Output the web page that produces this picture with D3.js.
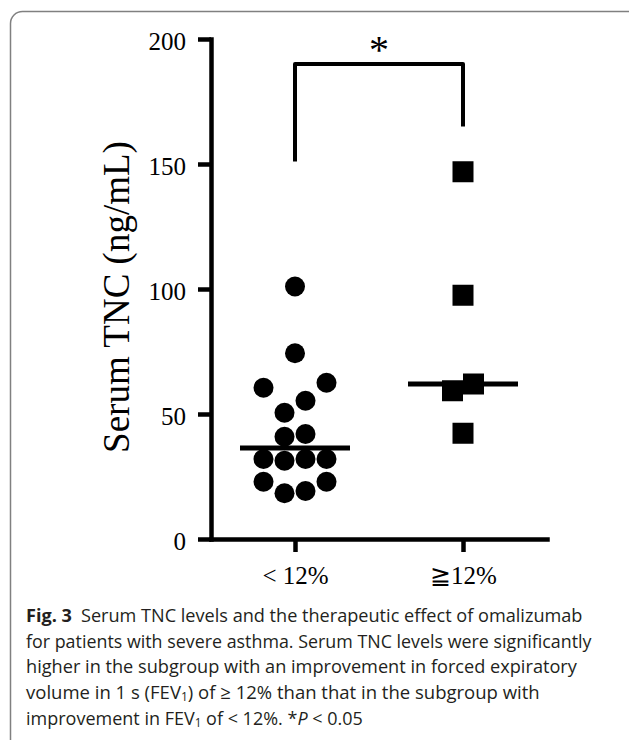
<!DOCTYPE html>
<html>

<head>
    <style>
        body { margin: 0; background: #fff; }
        svg { display: block; }
    </style>
</head>

<body>
    <script src="https://d3js.org/d3.v7.min.js"></script>
    <script>
        const width = 629
        const height = 740

        // groups on the x axis
        const groups = ["< 12%", "\u226712%"]
        // serum TNC (ng/mL), one array per group
        const lowValues = [101, 74.3, 62.5, 60.5, 55.3, 50.5, 42, 40.9, 32, 32, 32, 31.3, 22.9, 22.9, 19.2, 18.3]
        const highValues = [146.9, 97.5, 62, 59.3, 42.3]
        const yTicks = [0, 50, 100, 150, 200]
        // significance bracket, in data units
        const bracketLeft = 151
        const bracketRight = 165
        const bracketTop = 190
        const sigLabel = "*"

        const captionLines = [
            [{ t: "Fig. 3", b: true }, { t: "\u2002Serum TNC levels and the therapeutic effect of omalizumab" }],
            [{ t: "for patients with severe asthma. Serum TNC levels were significantly" }],
            [{ t: "higher in the subgroup with an improvement in forced expiratory" }],
            [{ t: "volume in 1 s (FEV" }, { t: "1", sub: true }, { t: ") of \u2265 12% than that in the subgroup with" }],
            [{ t: "improvement in FEV" }, { t: "1", sub: true }, { t: " of < 12%. *" }, { t: "P", i: true }, { t: " < 0.05" }]
        ]
        const captionEnds = [583, 592, 577, 540, 363]

        const svg = d3.select("body").append("svg")
            .attr("width", width)
            .attr("height", height)

        // frame of the figure panel
        svg.append("rect")
            .attr("x", 10.5).attr("y", 11.5)
            .attr("width", 640).attr("height", 740)
            .attr("rx", 12)
            .attr("fill", "none")
            .attr("stroke", "#808080")
            .attr("stroke-width", 1.5)

        const x = d3.scalePoint()
            .domain(groups)
            .range([211, 547])
            .padding(0.5)

        const y = d3.scaleLinear()
            .domain([0, 200])
            .range([539, 39])

        const serif = "'Liberation Serif', 'Times New Roman', serif"

        const xAxis = svg.append("g")
            .attr("transform", "translate(0,539)")
            .call(d3.axisBottom(x).tickSize(13).tickSizeOuter(0).tickPadding(14))
        const yAxis = svg.append("g")
            .attr("transform", "translate(211,0)")
            .call(d3.axisLeft(y).tickValues(yTicks).tickSize(13).tickSizeOuter(0).tickPadding(12))

        for (const g of [xAxis, yAxis]) {
            g.select(".domain").attr("stroke-width", 4.5).attr("stroke-linecap", "square")
            g.selectAll(".tick line").attr("stroke-width", 4.5)
            g.selectAll(".tick text")
                .attr("fill", "#000")
                .style("font-family", serif)
                .style("font-size", "25px")
        }
        yAxis.selectAll(".tick text").attr("dy", "0.4em")

        // y axis title
        svg.append("text")
            .attr("transform", "translate(129,297) rotate(-90)")
            .attr("text-anchor", "middle")
            .style("font-family", serif)
            .style("font-size", "37px")
            .text("Serum TNC (ng/mL)")

        // simple row based beeswarm: values close in y share a row and are
        // spread around the group centre, the row widens if it hits lower rows
        const r = 10
        const slot = 21
        const swarm = (values) => {
            const pts = values.map(v => ({ v, py: y(v) })).sort((a, b) => a.v - b.v)
            const rows = []
            pts.forEach(p => {
                const last = rows[rows.length - 1]
                if (last && last[0].py - p.py < 2 * r) last.push(p)
                else rows.push([p])
            })
            const placed = []
            const offset = (i, n, k) => {
                if (n % 2 === 0) {
                    const m = Math.floor(i / 2)
                    return (i % 2 === 0 ? -1 : 1) * (m + 0.5 + k)
                }
                if (i === 0) return 0
                const m = Math.ceil(i / 2)
                return (i % 2 === 1 ? -1 : 1) * (m + k)
            }
            rows.forEach(row => {
                let k = 0
                while (k < 6) {
                    const dx = row.map((p, i) => offset(i, row.length, k) * slot)
                    const hit = row.some((p, i) => placed.some(q =>
                        Math.hypot(dx[i] - q.dx, p.py - q.py) < 2 * r - 0.01))
                    if (!hit) {
                        row.forEach((p, i) => { p.dx = dx[i] })
                        break
                    }
                    k++
                }
                row.forEach(p => placed.push(p))
            })
            return placed
        }

        const lowPts = swarm(lowValues)
        const highPts = swarm(highValues)

        svg.append("g").selectAll("circle")
            .data(lowPts)
            .enter()
            .append("circle")
            .attr("cx", d => x(groups[0]) + d.dx)
            .attr("cy", d => d.py)
            .attr("r", r)
            .attr("fill", "#000")

        const side = 21
        svg.append("g").selectAll("rect")
            .data(highPts)
            .enter()
            .append("rect")
            .attr("x", d => x(groups[1]) + d.dx - side / 2)
            .attr("y", d => d.py - side / 2)
            .attr("width", side)
            .attr("height", side)
            .attr("fill", "#000")

        // median lines
        const medians = [d3.median(lowValues), d3.median(highValues)]
        svg.append("g").selectAll("line")
            .data(medians)
            .enter()
            .append("line")
            .attr("x1", (d, i) => x(groups[i]) - 55)
            .attr("x2", (d, i) => x(groups[i]) + 55)
            .attr("y1", d => y(d))
            .attr("y2", d => y(d))
            .attr("stroke", "#000")
            .attr("stroke-width", 5)

        // significance bracket
        const bx1 = x(groups[0])
        const bx2 = x(groups[1])
        svg.append("path")
            .attr("d", `M${bx1},${y(bracketLeft)}V${y(bracketTop)}H${bx2}V${y(bracketRight)}`)
            .attr("fill", "none")
            .attr("stroke", "#000")
            .attr("stroke-width", 4)
            .attr("stroke-linejoin", "round")
        svg.append("text")
            .attr("x", (bx1 + bx2) / 2)
            .attr("y", y(bracketTop) - 1)
            .attr("text-anchor", "middle")
            .style("font-family", serif)
            .style("font-size", "40px")
            .text(sigLabel)

        // caption, each line squeezed to the width it has in the figure
        const capX = 26
        const capY = [622, 648, 673, 699, 725]
        captionLines.forEach((segs, li) => {
            const t = svg.append("text")
                .attr("fill", "#231f20")
                .style("font-family", "'Open Sans', sans-serif")
                .style("font-size", "18.5px")
            segs.forEach(s => {
                const ts = t.append("tspan").text(s.t)
                if (s.b) ts.style("font-weight", "bold")
                if (s.i) ts.style("font-style", "italic")
                if (s.sub) ts.attr("baseline-shift", "-20%").style("font-size", "12px")
            })
            const w = t.node().getComputedTextLength()
            t.attr("transform", `translate(${capX},${capY[li]}) scale(${(captionEnds[li] - capX) / w},1)`)
        })
    </script>
</body>

</html>
